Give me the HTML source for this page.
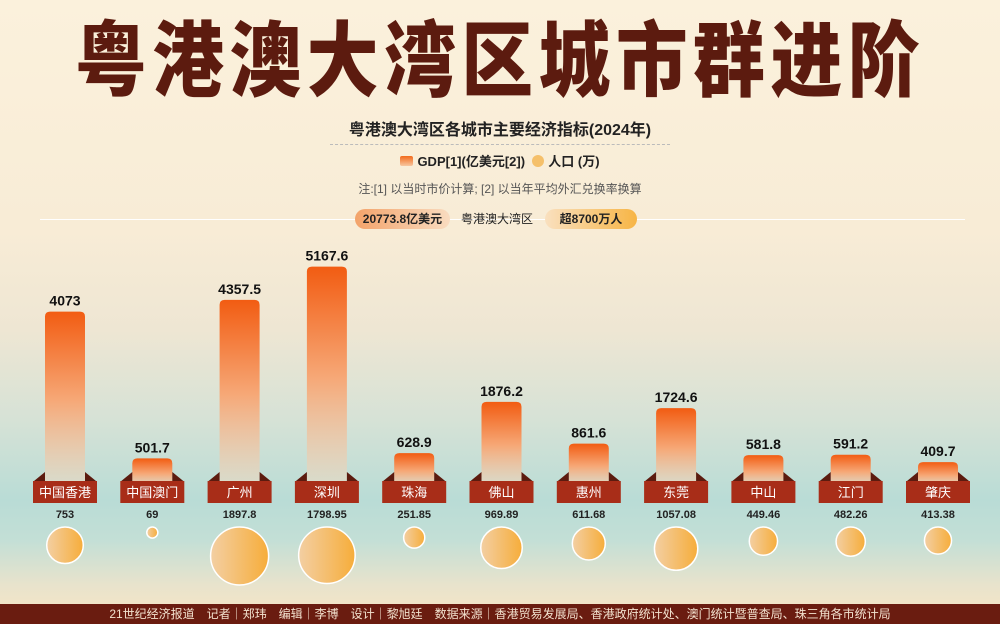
<!DOCTYPE html>
<html><head><meta charset="utf-8">
<style>
html,body{margin:0;padding:0}
body{width:1000px;height:624px;overflow:hidden;position:relative;font-family:"Liberation Sans","Noto Sans CJK SC",sans-serif;
background:linear-gradient(to bottom,#fbf1dc 0px,#f8ecd6 230px,#eee6d3 330px,#d6e2d6 420px,#b9dcd6 500px,#c3dfd6 540px,#e8e3cc 585px,#f1e4c8 604px);}
.title{position:absolute;left:0;top:10px;width:1000px;text-align:center;font-family:"Noto Sans CJK SC",sans-serif;font-weight:900;font-size:78px;letter-spacing:6px;color:#5c1b0f;line-height:90px;transform:scale(0.92,1.05)}
.sub{position:absolute;left:0;width:1000px;text-align:center}
.footer{position:absolute;left:0;top:604px;width:1000px;height:20px;background:#6a1c10;color:#f3e2cf;font-size:12px;line-height:20px;text-align:center}
</style></head><body>
<div class="title">粤港澳大湾区城市群进阶</div>
<div class="sub" style="top:116px;font-size:16px;font-weight:bold;color:#222">粤港澳大湾区各城市主要经济指标(2024年)</div>
<div style="position:absolute;left:330px;top:144px;width:340px;border-top:1px dashed #bbb"></div>
<div class="sub" style="top:151px;font-size:13px;font-weight:bold;color:#222">
<span><span style="display:inline-block;width:13px;height:10px;background:linear-gradient(#f26a1b,#f7c7a0);border-radius:2px;margin-right:4px"></span>GDP[1](亿美元[2])</span>
&nbsp;<span><span style="display:inline-block;width:12px;height:12px;border-radius:50%;background:#f5c06a;vertical-align:-1px;margin-right:4px"></span>人口 (万)</span></div>
<div class="sub" style="top:180px;font-size:12px;color:#555">注:[1] 以当时市价计算; [2] 以当年平均外汇兑换率换算</div>
<div style="position:absolute;left:40px;top:219px;width:925px;border-top:1px solid #fff"></div>
<div style="position:absolute;left:355px;top:209px;width:95px;height:20px;border-radius:10px;background:linear-gradient(90deg,#f3a36a,#f9dcc0);font-size:12px;font-weight:bold;line-height:20px;text-align:center;color:#222">20773.8亿美元</div>
<div style="position:absolute;left:452px;top:209px;width:90px;font-size:12px;line-height:20px;text-align:center;color:#222">粤港澳大湾区</div>
<div style="position:absolute;left:545px;top:209px;width:92px;height:20px;border-radius:10px;background:linear-gradient(90deg,#f9e0bf,#f7b545);font-size:12px;font-weight:bold;line-height:20px;text-align:center;color:#222">超8700万人</div>
<svg id="chart" width="1000" height="624" style="position:absolute;left:0;top:0">
<defs>
<linearGradient id="gb" x1="0" y1="0" x2="0" y2="1"><stop offset="0" stop-color="#f25c12"/><stop offset="0.5" stop-color="#f6a877"/><stop offset="1" stop-color="#e7dcc8" stop-opacity="0.6"/></linearGradient>
<linearGradient id="gc" x1="0" y1="0" x2="1" y2="0"><stop offset="0" stop-color="#f3cfa3"/><stop offset="1" stop-color="#f6ad3a"/></linearGradient>
</defs>
</svg>
<div class="footer">21世纪经济报道　记者｜郑玮　编辑｜李博　设计｜黎旭廷　数据来源｜香港贸易发展局、香港政府统计处、澳门统计暨普查局、珠三角各市统计局</div>
<script>
const cities=["中国香港","中国澳门","广州","深圳","珠海","佛山","惠州","东莞","中山","江门","肇庆"];
const gdp=[4073,501.7,4357.5,5167.6,628.9,1876.2,861.6,1724.6,581.8,591.2,409.7];
const popLabels=["753","69","1897.8","1798.95","251.85","969.89","611.68","1057.08","449.46","482.26","413.38"];
const pop=[753,69,1897.8,1798.95,251.85,969.89,611.68,1057.08,449.46,482.26,413.38];
const ns="http://www.w3.org/2000/svg";
const svg=document.getElementById('chart');
const x=i=>65+i*87.3;
const base=479, yScale=v=>base-v*0.0411;
const rScale=p=>0.666*Math.sqrt(p);
function mk(t,a){const e=document.createElementNS(ns,t);for(const k in a)e.setAttribute(k,a[k]);svg.appendChild(e);return e;}
cities.forEach((c,i)=>{
  const cx=x(i),top=yScale(gdp[i]);
  const b=mk('path',{d:`M${cx-20},${base+10} L${cx-20},${top+5} Q${cx-20},${top} ${cx-15},${top} L${cx+15},${top} Q${cx+20},${top} ${cx+20},${top+5} L${cx+20},${base+10} Z`,fill:'url(#gb)'});
  
  
  const v=mk('text',{x:cx,y:top-6,'text-anchor':'middle','font-size':14,'font-weight':'bold',fill:'#111','font-family':'Liberation Sans, sans-serif'});
  v.textContent=gdp[i];
  
  
  const f=mk('path',{d:`M${cx-31},481 L${cx-20},472 L${cx-20},481 Z M${cx+31},481 L${cx+20},472 L${cx+20},481 Z`,fill:'#5c1b0f'});
  
  
  const r=mk('rect',{x:cx-32,y:481,width:64,height:22,fill:'#a82d18'});
  
  
  const l=mk('text',{x:cx,y:497,'text-anchor':'middle','font-size':13,fill:'#fff','font-family':'Liberation Sans, Noto Sans CJK SC, sans-serif'});
  l.textContent=c;
  
  
  const p=mk('text',{x:cx,y:518,'text-anchor':'middle','font-size':11,'font-weight':'bold',fill:'#222','font-family':'Liberation Sans, sans-serif'});
  p.textContent=popLabels[i];
  
  
  const rr=rScale(pop[i]);
  const ci=mk('circle',{cx:cx,cy:527+rr,r:rr,fill:'url(#gc)',stroke:'#fff','stroke-width':1.5});
  
  
});
</script>
</body></html>
